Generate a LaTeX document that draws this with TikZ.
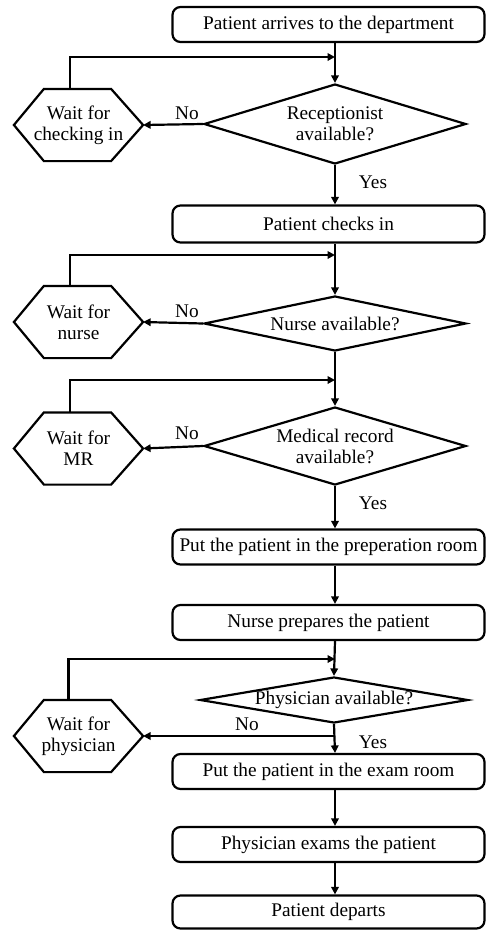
\documentclass[tikz,border=0pt]{standalone}
\usepackage{fontspec}
\setmainfont{Liberation Serif}
\usetikzlibrary{arrows.meta,shapes.geometric,calc}
\newcommand{\hexdraw}[1]{\draw (#1.west) -- ([xshift=30pt]#1.north west) -- ([xshift=-32pt]#1.north east) -- (#1.east) -- ([xshift=-32pt]#1.south east) -- ([xshift=30pt]#1.south west) -- cycle;}
\begin{document}
\begin{tikzpicture}[x=1pt,y=-1pt, line width=2.2pt,
  font=\fontsize{19.3}{21}\selectfont,
  box/.style={draw, rounded corners=8pt, minimum width=312pt, minimum height=35pt, inner sep=0pt},
  dia/.style={draw, diamond, inner sep=0pt, minimum width=262pt},
  hexn/.style={minimum width=127pt, minimum height=70pt, inner sep=0pt, align=center},
  txt/.style={inner sep=0pt, align=center},
  lbl/.style={inner sep=0pt},
  arr/.style={-{Triangle[length=7.5pt,width=7.5pt]}}]
\useasboundingbox (0,0) rectangle (487,930);
\coordinate (sp) at (335,0);
% boxes
\node[box] (B1) at (328.5,24.5) {Patient arrives to the department};
\node[box, minimum height=37pt] (B2) at (328.5,224) {Patient checks in};
\node[box] (B3) at (328.5,547) {Put the patient in the preperation room};
\node[box] (B4) at (328.5,622.5) {Nurse prepares the patient};
\node[box] (B5) at (328.5,771.5) {Put the patient in the exam room};
\node[box] (B6) at (328.5,844.5) {Physician exams the patient};
\node[box, minimum height=33pt] (B7) at (328.5,912) {Patient departs};
% diamonds
\node[dia, minimum height=80pt] (D1) at (335,124) {};
\node[txt] at (D1.center) {Receptionist\\available?};
\node[dia, minimum height=55pt] (D2) at (335,323.5) {};
\node[txt] at (D2.center) {Nurse available?};
\node[dia, minimum height=78pt] (D3) at (335,446) {};
\node[txt] at (D3.center) {Medical record\\available?};
\node[dia, minimum height=46pt, minimum width=268pt] (D4) at (334,700) {};
\node[txt] at (D4.center) {Physician available?};
% hexagons
\node[hexn] (H1) at (78.5,125) {Wait for\\checking in};
\hexdraw{H1}
\node[hexn] (H2) at (78.5,322) {Wait for\\nurse};
\hexdraw{H2}
\node[hexn] (H3) at (78.5,448.5) {Wait for\\MR};
\hexdraw{H3}
\node[hexn] (H4) at (78.5,736) {Wait for\\physician};
\hexdraw{H4}
% feedback points
\coordinate (f1) at (335,57);
\coordinate (f2) at (335,255);
\coordinate (f3) at (335,380);
\coordinate (f4) at (335,659);
% main flow
\draw[arr] (B1.south -| sp) -- (D1.north);
\draw[arr] (D1.south) -- (B2.north -| sp);
\draw[arr] (B2.south -| sp) -- (D2.north);
\draw[arr] (D2.south) -- (D3.north);
\draw[arr] (D3.south) -- (B3.north -| sp);
\draw[arr] (B3.south -| sp) -- (B4.north -| sp);
\draw[arr] (B4.south -| sp) -- (D4.north);
\draw[arr] (D4.south) -- (B5.north -| sp);
\draw[arr] (B5.south -| sp) -- (B6.north -| sp);
\draw[arr] (B6.south -| sp) -- (B7.north -| sp);
% no branches
\draw[arr] (D1.west) -- (H1.east);
\draw[arr] (D2.west) -- (H2.east);
\draw[arr] (D3.west) -- (H3.east);
\draw[arr] (H4.east -| sp) -- (H4.east);
% feedback loops
\draw[arr] ([xshift=-8.5pt]H1.north) |- (f1);
\draw[arr] ([xshift=-8.5pt]H2.north) |- (f2);
\draw[arr] ([xshift=-8.5pt]H3.north) |- (f3);
\draw[arr] ([xshift=-10pt]H4.north) |- (f4);
% labels
\node[lbl] (n1) at (187,113) {No};
\node[lbl] (n2) at (187,311) {No};
\node[lbl] (n3) at (187,433) {No};
\node[lbl] (n4) at (247,724) {No};
\node[lbl] (y1) at (373,182) {Yes};
\node[lbl] (y3) at (373,503) {Yes};
\node[lbl] (y4) at (373,742) {Yes};
\end{tikzpicture}
\end{document}
